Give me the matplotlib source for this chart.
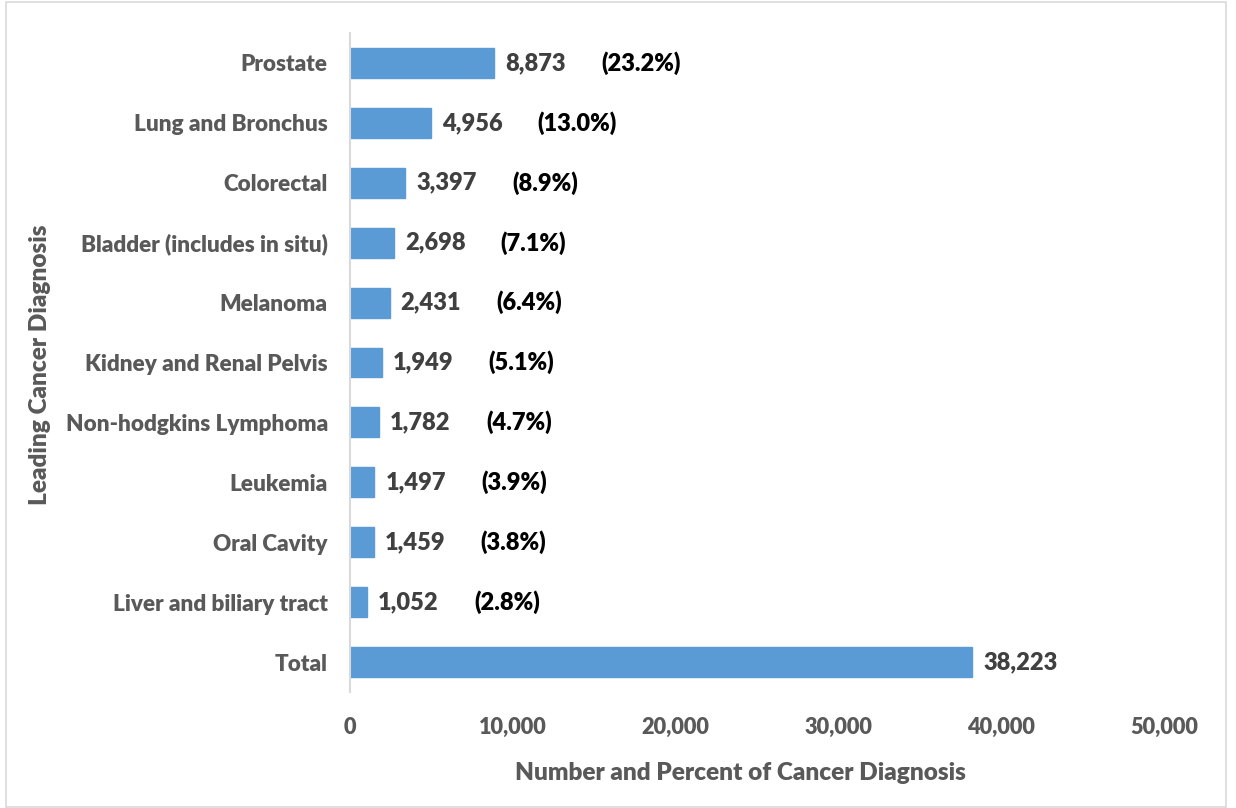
import matplotlib
matplotlib.use("Agg")
import matplotlib.pyplot as plt
from matplotlib.patches import Rectangle
from matplotlib.ticker import FuncFormatter

categories = ["Prostate", "Lung and Bronchus", "Colorectal", "Bladder (includes in situ)",
              "Melanoma", "Kidney and Renal Pelvis", "Non-hodgkins Lymphoma", "Leukemia",
              "Oral Cavity", "Liver and biliary tract", "Total"]
counts = [8873, 4956, 3397, 2698, 2431, 1949, 1782, 1497, 1459, 1052, 38223]
percents = ["(23.2%)", "(13.0%)", "(8.9%)", "(7.1%)", "(6.4%)", "(5.1%)", "(4.7%)",
            "(3.9%)", "(3.8%)", "(2.8%)", ""]
xticks = [0, 10000, 20000, 30000, 40000, 50000]

plt.rcParams['font.family'] = ['Lato', 'DejaVu Sans']
W, H = 1236, 808
fig = plt.figure(figsize=(W / 100, H / 100), dpi=100)
ax = fig.add_axes([350 / W, 1 - 692 / H, (1164 - 350) / W, (692 - 33) / H])

bar_color = "#5B9BD5"
gray = "#595959"
wt = "heavy"
ypos = list(range(len(categories)))
ax.barh(ypos, counts, height=0.5, color=bar_color, edgecolor="#5B9BD5")
ax.set_ylim(len(categories) - 0.5, -0.5)
ax.set_xlim(0, 50000)
ax.set_xticks(xticks)
ax.xaxis.set_major_formatter(FuncFormatter(lambda v, p: f"{int(v):,}"))
ax.set_yticks(ypos)
ax.set_yticklabels(categories)

for lab in ax.get_yticklabels():
    lab.set_fontweight(wt)
    lab.set_fontsize(16.2)
    lab.set_color(gray)
for lab in ax.get_xticklabels():
    lab.set_fontweight(wt)
    lab.set_fontsize(15.7)
    lab.set_color(gray)
ax.tick_params(axis="y", length=0, pad=16)
ax.tick_params(axis="x", length=0, pad=18)

for s in ["top", "right", "bottom"]:
    ax.spines[s].set_visible(False)
ax.spines["left"].set_color("#D9D9D9")
ax.spines["left"].set_linewidth(1.5)

for y, c, p in zip(ypos, counts, percents):
    ax.annotate(f"{c:,}", xy=(c, y), xytext=(8, 0), textcoords="offset points",
                va="center", ha="left", fontsize=17, fontweight=wt, color="#404040")
    if p:
        ax.annotate(p, xy=(c, y), xytext=(77, 0), textcoords="offset points",
                    va="center", ha="left", fontsize=17, fontweight=wt, color="black")

fig.text(740 / W, 1 - 773 / H, "Number and Percent of Cancer Diagnosis", ha="center", va="center",
         fontsize=17.6, fontweight=wt, color=gray)
fig.text(40 / W, 1 - 365 / H, "Leading Cancer Diagnosis", ha="center", va="center", rotation=90,
         fontsize=17.6, fontweight=wt, color=gray)

fig.patches.append(Rectangle((6 / W, 1 / H), (1226 - 6) / W, (806 - 1) / H, transform=fig.transFigure,
                             fill=False, edgecolor="#D9D9D9", linewidth=1.2))

fig.savefig("out.png", dpi=100)
